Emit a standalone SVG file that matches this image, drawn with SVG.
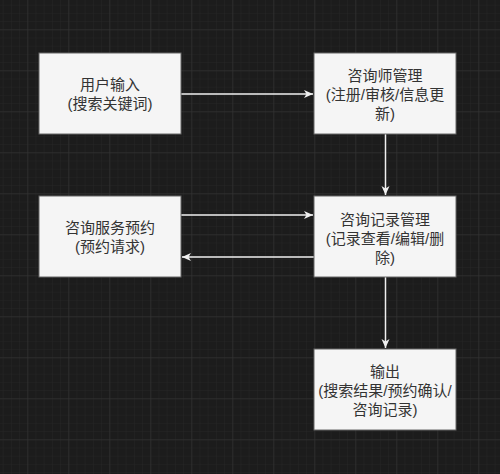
<svg xmlns="http://www.w3.org/2000/svg" width="500" height="474" viewBox="0 0 500 474">
<style>
.box{fill:#f5f5f5;stroke:#666666;stroke-width:1}
.lbl{font-family:"Liberation Sans","Noto Sans CJK SC",sans-serif;font-size:15px;fill:#333333;text-anchor:middle}
.edge{stroke:#f0f0f0;stroke-width:1.5;fill:none;marker-end:url(#ah)}
</style>
<defs>
<pattern id="minor" patternUnits="userSpaceOnUse" x="27.3" y="29.3" width="8.2" height="8.2">
<path d="M0,0 H8.2 M0,0 V8.2" stroke="#262626" stroke-width="1" fill="none"/>
</pattern>
<pattern id="major" patternUnits="userSpaceOnUse" x="27.3" y="29.3" width="41" height="41">
<path d="M0,0 H41 M0,0 V41" stroke="#363636" stroke-width="1" fill="none"/>
</pattern>
<marker id="ah" markerUnits="userSpaceOnUse" markerWidth="10" markerHeight="10" viewBox="0 0 10 10" refX="9" refY="5" orient="auto">
<path d="M0,1 L9,5 L0,9 L2.5,5 Z" fill="#f0f0f0"/>
</marker>
</defs>
<rect width="500" height="474" fill="#1c1c1c"/>
<rect width="500" height="474" fill="url(#minor)"/>
<rect width="500" height="474" fill="url(#major)"/>
<g id="connectors">
<path class="edge" d="M181,94 H313"/>
<path class="edge" d="M385.5,134 V195"/>
<path class="edge" d="M181,215 H313"/>
<path class="edge" d="M314,257 H182"/>
<path class="edge" d="M385.5,277 V348"/>
</g>
<g id="n1">
<rect class="box" x="39" y="53" width="142" height="81"/>
<text class="lbl" x="110" y="90">用户输入</text>
<text class="lbl" x="110" y="109">(搜索关键词)</text>
</g>
<g id="n2">
<rect class="box" x="314" y="53" width="142" height="81"/>
<text class="lbl" x="385" y="80.5">咨询师管理</text>
<text class="lbl" x="385" y="99.5">(注册/审核/信息更</text>
<text class="lbl" x="385" y="118.5">新)</text>
</g>
<g id="n3">
<rect class="box" x="39" y="196" width="142" height="81"/>
<text class="lbl" x="110" y="233">咨询服务预约</text>
<text class="lbl" x="110" y="252">(预约请求)</text>
</g>
<g id="n4">
<rect class="box" x="314" y="196" width="142" height="81"/>
<text class="lbl" x="385" y="224.5">咨询记录管理</text>
<text class="lbl" x="385" y="243.5">(记录查看/编辑/删</text>
<text class="lbl" x="385" y="262.5">除)</text>
</g>
<g id="n5">
<rect class="box" x="314" y="349" width="142" height="81"/>
<text class="lbl" x="385" y="376.5">输出</text>
<text class="lbl" x="385" y="395.5">(搜索结果/预约确认/</text>
<text class="lbl" x="385" y="414.5">咨询记录)</text>
</g>
</svg>
